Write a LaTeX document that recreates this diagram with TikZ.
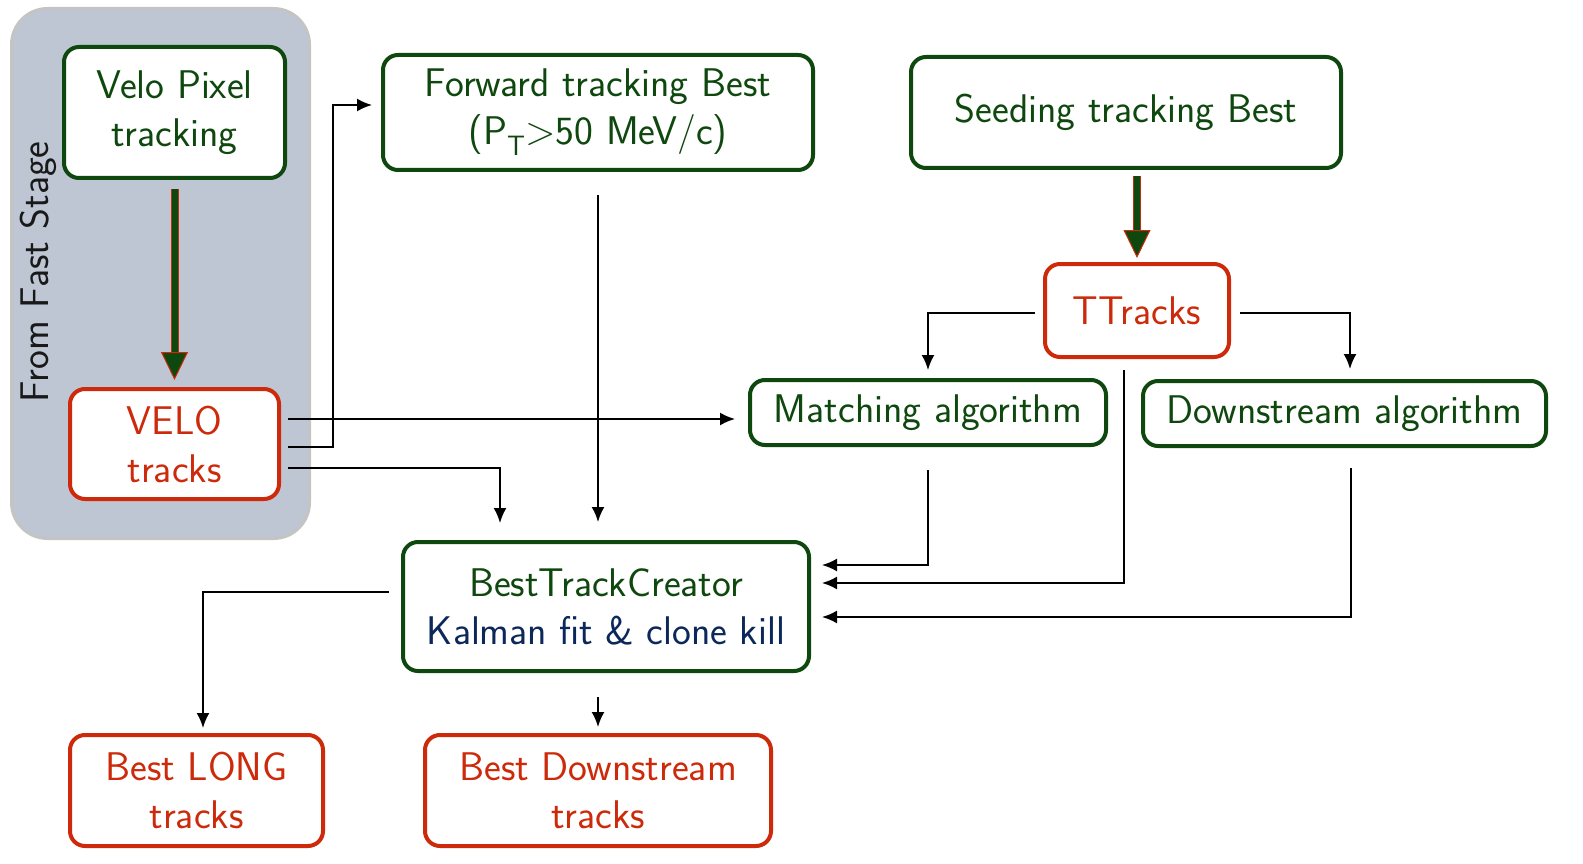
\documentclass[tikz,border=0pt]{standalone}
\usepackage{fontspec}
\usetikzlibrary{arrows.meta}
\definecolor{tkgreen}{RGB}{14,72,14}
\definecolor{tkred}{RGB}{204,42,10}
\definecolor{tkblue}{RGB}{12,40,90}
\definecolor{panelfill}{RGB}{190,198,212}
\definecolor{panelline}{RGB}{196,196,196}
\tikzset{
  greenbox/.style={rectangle, rounded corners=15pt, draw=tkgreen, line width=4pt, fill=white, text=tkgreen, align=center, inner sep=0pt},
  redbox/.style={rectangle, rounded corners=15pt, draw=tkred, line width=4pt, fill=white, text=tkred, align=center, inner sep=0pt},
  panel/.style={rectangle, rounded corners=36pt, draw=panelline, line width=3pt, fill=panelfill, inner sep=0pt},
  flow/.style={line width=2pt, -{Latex[length=15pt,width=13pt]}},
  fatflow/.style={draw=tkred, line width=1pt, double=tkgreen, double distance=6pt,
    -{Triangle[length=28pt,width=27pt,fill=tkgreen,color=tkred,line width=1pt]}}
}
\begin{document}
\begin{tikzpicture}[x=1pt, y=-1pt, font=\sffamily\fontsize{40}{48}\selectfont]
        \useasboundingbox (0,0) rectangle (1583,864);
        % Nodes
        \node (fast) [panel, minimum width=298pt, minimum height=530pt] at (160.5,273.5) {};
        \node (faststage) [rotate=90, text=black!90] at (38,272) {From Fast Stage};
        \node (velopix) [greenbox, minimum width=221pt, minimum height=131pt] at (174.5,112.5) {Velo Pixel\\tracking};
        \node (velotrk) [redbox, minimum width=209pt, minimum height=110pt] at (174.5,444) {VELO\\tracks};
        \node (fwd) [greenbox, minimum width=430pt, minimum height=115pt] at (598,112.5) {Forward tracking Best\\(P\textsubscript{T}>50 MeV/c)};
        \node (seed) [greenbox, minimum width=430pt, minimum height=111pt] at (1126,112.5) {Seeding tracking Best};
        \node (ttrk) [redbox, minimum width=184pt, minimum height=93pt] at (1137,310.5) {TTracks};
        \node (match) [greenbox, minimum width=356pt, minimum height=65pt] at (928,412.5) {Matching algorithm};
        \node (down) [greenbox, minimum width=403pt, minimum height=65pt] at (1344.5,413.5) {Downstream algorithm};
        \node (btc) [greenbox, minimum width=406pt, minimum height=129pt] at (606,606.5) {BestTrackCreator\\\textcolor{tkblue}{Kalman fit \& clone kill}};
        \node (bestlong) [redbox, minimum width=253pt, minimum height=111pt] at (196.5,790.5) {Best LONG\\tracks};
        \node (bestdown) [redbox, minimum width=346pt, minimum height=111pt] at (598,790.5) {Best Downstream\\tracks};

        % Edges
        \draw[fatflow, shorten <=9pt, shorten >=7pt] (velopix.south) -- (velotrk.north);
        \draw[fatflow, shorten <=6pt, shorten >=4pt] (seed.south -| ttrk.north) -- (ttrk.north);
        \draw[flow, shorten >=13pt] ([xshift=7pt,yshift=25pt]velotrk.east) coordinate (v1) -- (v1 -| match.west);
        \draw[flow, shorten >=9pt] ([xshift=7pt,yshift=-3pt]velotrk.east) -- ++(45,0) |- ([yshift=7.5pt]fwd.west);
        \draw[flow, shorten >=17pt] ([xshift=7pt,yshift=-24pt]velotrk.east) -| ([xshift=-106pt]btc.north);
        \draw[flow, shorten <=23pt, shorten >=18pt] (fwd.south) -- (fwd.south |- btc.north);
        \draw[flow, shorten <=8pt, shorten >=8pt] ([yshift=-2.5pt]ttrk.west) -| (match.north);
        \draw[flow, shorten <=9pt, shorten >=10pt] ([yshift=-2.5pt]ttrk.east) -| ([xshift=5.5pt]down.north);
        \draw[flow, shorten <=23pt, shorten >=11pt] (match.south) |- ([yshift=41.5pt]btc.east);
        \draw[flow, shorten <=11pt, shorten >=11pt] ([xshift=-13pt]ttrk.south) |- ([yshift=23.5pt]btc.east);
        \draw[flow, shorten <=20pt, shorten >=11pt] ([xshift=6.5pt]down.south) |- ([yshift=-10.5pt]btc.east);
        \draw[flow, shorten <=12pt, shorten >=5pt] ([yshift=14.5pt]btc.west) -| ([xshift=6.5pt]bestlong.north);
        \draw[flow, shorten <=24pt, shorten >=6pt] ([xshift=-8pt]btc.south) -- (bestdown.north);

\end{tikzpicture}
\end{document}
